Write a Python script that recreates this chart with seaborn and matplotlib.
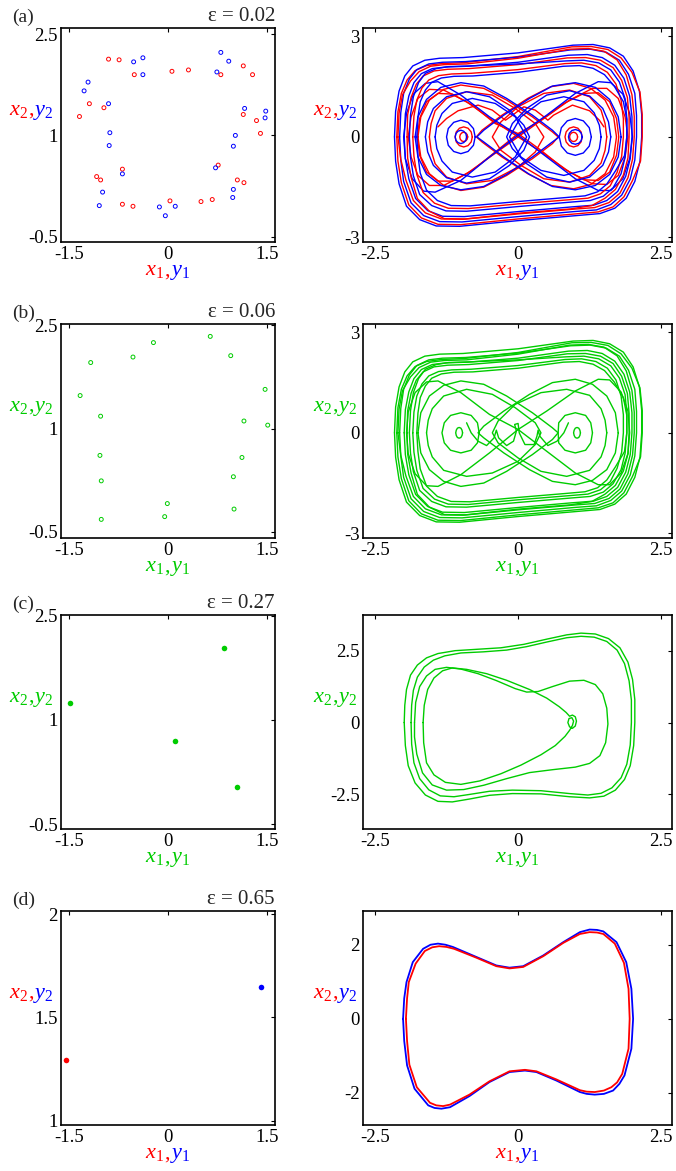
import numpy as np
import pandas as pd
import matplotlib
matplotlib.use("Agg")
import matplotlib.pyplot as plt
import seaborn as sns
from matplotlib.offsetbox import TextArea, HPacker, AnnotationBbox

sns.set_style("white")
plt.rcParams["font.family"] = ["Liberation Serif", "DejaVu Serif"]
plt.rcParams["mathtext.fontset"] = "custom"
plt.rcParams["mathtext.rm"] = "Liberation Serif"
plt.rcParams["mathtext.it"] = "Liberation Serif:italic"
plt.rcParams["lines.solid_joinstyle"] = "round"

RED, BLUE, GREEN = "#ff0000", "#0000ff", "#00cc00"

# ---------------- Poincare sections (left column) ----------------
a_red_px = [-0.90, -0.74, -0.51, 0.06, 0.31, 0.80, 1.14, 1.28, -1.19, -0.97, -1.34, 1.14, 1.34,
            1.40, -0.69, -1.08, -1.02, 0.76, 1.05, 1.15, -0.69, -0.53, 0.03, 0.50, 0.67]
a_red_py = [2.13, 2.12, 1.90, 1.95, 1.97, 1.90, 2.03, 1.90, 1.47, 1.41, 1.28, 1.31, 1.22,
            1.03, 0.50, 0.39, 0.34, 0.56, 0.34, 0.30, -0.02, -0.05, 0.03, 0.02, 0.05]
a_blue_px = [-0.52, -0.38, -0.38, 0.80, 0.92, 0.74, -1.21, -1.27, -0.90, 1.16, 1.48, 1.47, -0.88,
             -0.89, 1.02, 0.99, -0.69, 0.72, -0.99, -1.04, 0.99, 0.98, -0.13, 0.11, -0.04]
a_blue_py = [2.09, 2.15, 1.90, 2.23, 2.10, 1.94, 1.79, 1.66, 1.47, 1.40, 1.36, 1.26, 1.04,
             0.85, 1.00, 0.84, 0.43, 0.52, 0.16, -0.04, 0.20, 0.08, -0.06, -0.05, -0.19]
b_green_px = [-1.17, -0.53, -0.22, 0.64, 0.95, -1.33, 1.47, -1.02, 1.15, 1.51, -1.03, 1.12,
              -1.01, 0.99, -0.01, -0.05, -1.01, 1.00]
b_green_py = [1.96, 2.04, 2.25, 2.34, 2.06, 1.48, 1.57, 1.18, 1.11, 1.05, 0.61, 0.58,
              0.24, 0.30, -0.09, -0.28, -0.32, -0.17]
c_green_px = [0.85, -1.49, 0.10, 1.05]
c_green_py = [2.03, 1.24, 0.69, 0.04]
d_red_px, d_red_py = [-1.54], [1.294]
d_blue_px, d_blue_py = [1.41], [1.65]

# ---------------- outer band of the chaotic orbits, (a) and (b) ----------------
band_x = [
    [-2.16, -2.14, -2.08, -1.98, -1.84, -1.63, -1.37, -0.96, 0, 0.96, 1.31, 1.60, 1.84, 2.01, 2.12, 2.16,
     2.16, 2.13, 2.04, 1.89, 1.69, 1.43, 1.02, 0, -1.02, -1.43, -1.72, -1.95, -2.08, -2.14, -2.16],
    [-2.12, -2.10, -2.04, -1.94, -1.80, -1.60, -1.34, -0.94, 0, 0.94, 1.28, 1.57, 1.80, 1.99, 2.13, 2.17,
     2.17, 2.14, 2.00, 1.85, 1.66, 1.40, 1.00, 0, -1.00, -1.40, -1.69, -1.91, -2.04, -2.10, -2.12],
    [-2.07, -2.05, -2.00, -1.90, -1.77, -1.56, -1.32, -0.92, 0, 0.92, 1.26, 1.54, 1.77, 1.93, 2.04, 2.07,
     2.07, 2.04, 1.96, 1.81, 1.62, 1.37, 0.98, 0, -0.98, -1.37, -1.65, -1.87, -2.00, -2.05, -2.07],
    [-2.10, -2.08, -2.02, -1.88, -1.73, -1.53, -1.29, -0.90, 0, 0.90, 1.23, 1.50, 1.73, 1.89, 1.99, 2.03,
     2.03, 2.00, 1.92, 1.78, 1.59, 1.34, 0.96, 0, -0.96, -1.34, -1.62, -1.83, -1.96, -2.05, -2.10],
    [-1.99, -1.97, -1.91, -1.82, -1.69, -1.50, -1.26, -0.88, 0, 0.88, 1.21, 1.47, 1.69, 1.85, 1.95, 1.99,
     1.99, 1.96, 1.88, 1.74, 1.55, 1.32, 0.94, 0, -0.94, -1.32, -1.58, -1.79, -1.91, -1.97, -1.99],
    [-1.94, -1.93, -1.87, -1.78, -1.66, -1.47, -1.23, -0.86, 0, 0.86, 1.18, 1.44, 1.66, 1.81, 1.91, 1.94,
     1.94, 1.92, 1.84, 1.70, 1.52, 1.29, 0.92, 0, -0.92, -1.29, -1.55, -1.76, -1.87, -1.93, -1.94],
    [-1.90, -1.88, -1.83, -1.74, -1.62, -1.43, -1.21, -0.84, 0, 0.84, 1.15, 1.41, 1.62, 1.77, 1.87, 1.90,
     1.90, 1.87, 1.80, 1.66, 1.49, 1.26, 0.90, 0, -0.90, -1.26, -1.51, -1.72, -1.83, -1.88, -1.90],
    [-1.84, -1.82, -1.77, -1.68, -1.56, -1.39, -1.16, -0.82, 0, 0.82, 1.11, 1.36, 1.56, 1.71, 1.80, 1.84,
     1.84, 1.81, 1.73, 1.61, 1.44, 1.22, 0.87, 0, -0.87, -1.22, -1.46, -1.66, -1.77, -1.82, -1.84],
    [-1.77, -1.75, -1.71, -1.62, -1.51, -1.34, -1.12, -0.79, 0, 0.79, 1.07, 1.31, 1.51, 1.68, 1.84, 1.90,
     1.90, 1.86, 1.70, 1.55, 1.39, 1.17, 0.84, 0, -0.84, -1.17, -1.41, -1.60, -1.71, -1.75, -1.77],
]
band_y = [
    [0, 0.77, 1.37, 1.82, 2.12, 2.29, 2.35, 2.37, 2.51, 2.74, 2.76, 2.66, 2.41, 1.97, 1.37, 0.67,
     0, -0.73, -1.33, -1.83, -2.13, -2.29, -2.35, -2.50, -2.67, -2.66, -2.47, -2.07, -1.40, -0.73, 0],
    [0, 0.75, 1.30, 1.70, 1.98, 2.13, 2.19, 2.22, 2.40, 2.69, 2.70, 2.61, 2.36, 1.93, 1.34, 0.66,
     0, -0.72, -1.30, -1.79, -2.09, -2.24, -2.30, -2.45, -2.62, -2.61, -2.42, -2.03, -1.37, -0.72, 0],
    [0, 0.73, 1.30, 1.73, 2.01, 2.18, 2.23, 2.25, 2.38, 2.60, 2.62, 2.53, 2.29, 1.87, 1.30, 0.64,
     0, -0.69, -1.26, -1.74, -2.02, -2.18, -2.23, -2.38, -2.54, -2.53, -2.35, -1.97, -1.33, -0.69, 0],
    [0, 0.71, 1.26, 1.67, 1.95, 2.11, 2.16, 2.18, 2.35, 2.62, 2.64, 2.56, 2.30, 1.85, 1.26, 0.62,
     0, -0.67, -1.22, -1.68, -1.96, -2.11, -2.16, -2.30, -2.46, -2.45, -2.27, -1.90, -1.29, -0.67, 0],
    [0, 0.69, 1.22, 1.62, 1.89, 2.04, 2.09, 2.11, 2.23, 2.44, 2.46, 2.37, 2.14, 1.75, 1.22, 0.60,
     0, -0.65, -1.18, -1.63, -1.90, -2.04, -2.09, -2.23, -2.38, -2.37, -2.20, -1.84, -1.25, -0.65, 0],
    [0, 0.66, 1.18, 1.57, 1.82, 1.97, 2.02, 2.04, 2.16, 2.36, 2.37, 2.29, 2.07, 1.69, 1.18, 0.58,
     0, -0.63, -1.14, -1.57, -1.83, -2.05, -2.15, -2.28, -2.45, -2.44, -2.22, -1.84, -1.20, -0.63, 0],
    [0, 0.66, 1.20, 1.62, 1.90, 2.04, 2.10, 2.12, 2.18, 2.27, 2.29, 2.21, 2.00, 1.64, 1.14, 0.56,
     0, -0.61, -1.10, -1.52, -1.77, -1.90, -1.95, -2.08, -2.22, -2.21, -2.05, -1.72, -1.16, -0.61, 0],
    [0, 0.62, 1.10, 1.46, 1.70, 1.83, 1.88, 1.90, 2.01, 2.19, 2.21, 2.13, 1.93, 1.58, 1.10, 0.54,
     0, -0.58, -1.06, -1.46, -1.70, -1.83, -1.88, -2.00, -2.14, -2.13, -1.98, -1.66, -1.12, -0.58, 0],
    [0, 0.59, 1.05, 1.40, 1.63, 1.76, 1.81, 1.82, 1.93, 2.11, 2.13, 2.05, 1.86, 1.52, 1.05, 0.52,
     0, -0.56, -1.02, -1.41, -1.64, -1.76, -1.81, -1.93, -2.06, -2.05, -1.90, -1.59, -1.08, -0.56, 0],
]
# colour of each band loop in panel (a)
band_colors_a = [BLUE, RED, BLUE, RED, BLUE, RED, BLUE, RED, BLUE]

# ---------------- inner loops of the chaotic orbits ----------------
a_red_inner = [
    [(0, 0), (0.45, -0.5), (0.9, -1.05), (1.3, -1.4), (1.55, -1.42), (1.75, -1.15), (1.87, -0.6), (1.92, 0),
     (1.87, 0.6), (1.75, 1.15), (1.55, 1.45), (1.3, 1.45), (0.9, 1.1), (0.45, 0.55), (0, 0), (-0.45, -0.55),
     (-0.9, -1.1), (-1.3, -1.45), (-1.55, -1.45), (-1.75, -1.15), (-1.87, -0.6), (-1.92, 0), (-1.87, 0.6),
     (-1.75, 1.15), (-1.55, 1.42), (-1.3, 1.4), (-0.9, 1.05), (-0.45, 0.5), (0, 0)],
    [(0, 0.1), (0.4, -0.4), (0.8, -0.95), (1.15, -1.28), (1.4, -1.3), (1.6, -1.05), (1.72, -0.55), (1.76, 0),
     (1.72, 0.55), (1.6, 1.05), (1.4, 1.32), (1.15, 1.3), (0.8, 1.0), (0.4, 0.5), (0, 0.1), (-0.4, -0.45),
     (-0.8, -1.0), (-1.15, -1.32), (-1.4, -1.32), (-1.6, -1.05), (-1.72, -0.55), (-1.76, 0), (-1.72, 0.55),
     (-1.6, 1.05), (-1.4, 1.3), (-1.15, 1.28), (-0.8, 0.95), (-0.4, 0.4), (0, 0.1)],
    [(-1.55, 0), (-1.52, 0.4), (-1.45, 0.78), (-1.25, 1.15), (-0.9, 1.35), (-0.45, 1.25), (-0.05, 0.85),
     (0.3, 0.4), (0.45, 0), (0.3, -0.45), (0, -0.9), (-0.45, -1.3), (-0.9, -1.4), (-1.25, -1.2),
     (-1.45, -0.8), (-1.52, -0.4), (-1.55, 0)],
    [(1.55, 0), (1.52, -0.4), (1.45, -0.78), (1.25, -1.15), (0.9, -1.35), (0.45, -1.25), (0.05, -0.85),
     (-0.3, -0.4), (-0.45, 0), (-0.3, 0.45), (0, 0.9), (0.45, 1.3), (0.9, 1.4), (1.25, 1.2), (1.45, 0.8),
     (1.52, 0.4), (1.55, 0)],
    [(-1.75, 0), (-1.7, 0.6), (-1.55, 1.1), (-1.3, 1.42), (-1.0, 1.55), (-0.6, 1.45), (-0.2, 1.1),
     (0.25, 0.6), (0.6, 0.15), (0.7, 0), (0.6, -0.2), (0.25, -0.65), (-0.2, -1.15), (-0.6, -1.5),
     (-1.0, -1.6), (-1.3, -1.45), (-1.55, -1.1), (-1.7, -0.6), (-1.75, 0)],
    [(1.72, 0), (1.67, -0.6), (1.52, -1.1), (1.27, -1.42), (0.97, -1.55), (0.57, -1.45), (0.17, -1.1),
     (-0.28, -0.6), (-0.63, -0.15), (-0.73, 0), (-0.63, 0.2), (-0.28, 0.65), (0.17, 1.15), (0.57, 1.5),
     (0.97, 1.6), (1.27, 1.45), (1.52, 1.1), (1.67, 0.6), (1.72, 0)],
    [(-1.4, 0.3), (-1.25, 0.55), (-1.05, 0.78), (-0.7, 0.95), (-0.45, 0.8), (-0.3, 0.6), (-0.22, 0.5),
     (-0.12, 0.62), (0.1, 0.9), (0.3, 0.8), (0.45, 0.6), (0.52, 0.5), (0.62, 0.65), (0.95, 0.95),
     (1.25, 0.78), (1.42, 0.5), (1.5, 0.3)],
    [(-0.88, 0), (-0.89, 0.07), (-0.915, 0.12), (-0.95, 0.14), (-0.985, 0.12), (-1.01, 0.07), (-1.02, 0),
     (-1.01, -0.07), (-0.985, -0.12), (-0.95, -0.14), (-0.915, -0.12), (-0.89, -0.07), (-0.88, 0)],
    [(-0.80, 0), (-0.82, 0.15), (-0.875, 0.26), (-0.95, 0.30), (-1.025, 0.26), (-1.08, 0.15), (-1.10, 0),
     (-1.08, -0.15), (-1.025, -0.26), (-0.95, -0.30), (-0.875, -0.26), (-0.82, -0.15), (-0.80, 0)],
    [(1.04, 0), (1.03, 0.07), (1.005, 0.12), (0.97, 0.14), (0.935, 0.12), (0.91, 0.07), (0.90, 0),
     (0.91, -0.07), (0.935, -0.12), (0.97, -0.14), (1.005, -0.12), (1.03, -0.07), (1.04, 0)],
    [(1.12, 0), (1.10, 0.15), (1.045, 0.26), (0.97, 0.30), (0.895, 0.26), (0.84, 0.15), (0.82, 0),
     (0.84, -0.15), (0.895, -0.26), (0.97, -0.30), (1.045, -0.26), (1.10, -0.15), (1.12, 0)],
]

a_blue_inner = [
    [(0, 0.05), (0.5, -0.6), (1.0, -1.25), (1.4, -1.6), (1.62, -1.6), (1.83, -1.25), (1.95, -0.65), (2.0, 0),
     (1.95, 0.7), (1.83, 1.28), (1.62, 1.62), (1.4, 1.65), (1.0, 1.3), (0.5, 0.65), (0, 0.05), (-0.5, -0.6),
     (-1.0, -1.3), (-1.45, -1.65), (-1.65, -1.62), (-1.85, -1.25), (-1.97, -0.65), (-2.0, 0), (-1.95, 0.7),
     (-1.83, 1.28), (-1.62, 1.6), (-1.4, 1.65), (-1.0, 1.25), (-0.5, 0.6), (0, 0.05)],
    [(-1.45, 0), (-1.42, 0.35), (-1.33, 0.7), (-1.15, 1.0), (-0.8, 1.15), (-0.4, 1.0), (-0.05, 0.6),
     (0.15, 0), (-0.05, -0.6), (-0.4, -1.05), (-0.8, -1.2), (-1.15, -1.05), (-1.33, -0.72),
     (-1.42, -0.35), (-1.45, 0)],
    [(1.45, 0), (1.42, -0.35), (1.33, -0.7), (1.15, -1.0), (0.8, -1.15), (0.4, -1.0), (0.05, -0.6),
     (-0.15, 0), (0.05, 0.6), (0.4, 1.05), (0.8, 1.2), (1.15, 1.05), (1.33, 0.72), (1.42, 0.35), (1.45, 0)],
    [(-1.62, 0), (-1.58, 0.45), (-1.48, 0.85), (-1.25, 1.2), (-0.9, 1.35), (-0.5, 1.2), (-0.15, 0.8),
     (0.1, 0.35), (0.2, 0), (0.1, -0.4), (-0.15, -0.85), (-0.5, -1.25), (-0.9, -1.38), (-1.25, -1.22),
     (-1.48, -0.85), (-1.58, -0.45), (-1.62, 0)],
    [(1.62, 0), (1.58, -0.45), (1.48, -0.85), (1.25, -1.2), (0.9, -1.35), (0.5, -1.2), (0.15, -0.8),
     (-0.1, -0.35), (-0.2, 0), (-0.1, 0.4), (0.15, 0.85), (0.5, 1.25), (0.9, 1.38), (1.25, 1.22),
     (1.48, 0.85), (1.58, 0.45), (1.62, 0)],
    [(1.8, 0), (1.75, -0.6), (1.6, -1.12), (1.35, -1.45), (1.0, -1.58), (0.6, -1.48), (0.2, -1.12),
     (-0.25, -0.6), (-0.6, -0.15), (-0.72, 0), (-0.6, 0.2), (-0.25, 0.65), (0.2, 1.15), (0.6, 1.52),
     (1.0, 1.62), (1.35, 1.48), (1.6, 1.12), (1.75, 0.6), (1.8, 0)],
    [(-1.8, 0), (-1.75, 0.6), (-1.6, 1.12), (-1.35, 1.48), (-1.0, 1.62), (-0.6, 1.52), (-0.2, 1.15),
     (0.25, 0.65), (0.6, 0.2), (0.72, 0), (0.6, -0.15), (0.25, -0.6), (-0.2, -1.12), (-0.6, -1.48),
     (-1.0, -1.58), (-1.35, -1.45), (-1.6, -1.12), (-1.75, -0.6), (-1.8, 0)],
    [(-0.90, 0), (-0.913, 0.10), (-0.95, 0.17), (-1.0, 0.20), (-1.05, 0.17), (-1.087, 0.10), (-1.10, 0),
     (-1.087, -0.10), (-1.05, -0.17), (-1.0, -0.20), (-0.95, -0.17), (-0.913, -0.10), (-0.90, 0)],
    [(-0.75, 0), (-0.78, 0.25), (-0.875, 0.435), (-1.0, 0.5), (-1.125, 0.435), (-1.22, 0.25), (-1.25, 0),
     (-1.22, -0.25), (-1.125, -0.435), (-1.0, -0.5), (-0.875, -0.435), (-0.78, -0.25), (-0.75, 0)],
    [(1.12, 0), (1.104, 0.11), (1.06, 0.19), (1.0, 0.22), (0.94, 0.19), (0.896, 0.11), (0.88, 0),
     (0.896, -0.11), (0.94, -0.19), (1.0, -0.22), (1.06, -0.19), (1.104, -0.11), (1.12, 0)],
    [(1.28, 0), (1.244, 0.275), (1.14, 0.48), (1.0, 0.55), (0.86, 0.48), (0.756, 0.275), (0.72, 0),
     (0.756, -0.275), (0.86, -0.48), (1.0, -0.55), (1.14, -0.48), (1.244, -0.275), (1.28, 0)],
]

b_green_inner = [
    [(0, 0.1), (0.5, -0.55), (1.0, -1.2), (1.4, -1.55), (1.6, -1.55), (1.8, -1.2), (1.92, -0.62), (1.95, 0),
     (1.92, 0.65), (1.8, 1.22), (1.6, 1.58), (1.4, 1.6), (1.0, 1.25), (0.5, 0.65), (0, 0.1), (-0.5, -0.6),
     (-1.0, -1.25), (-1.4, -1.6), (-1.6, -1.58), (-1.8, -1.22), (-1.92, -0.62), (-1.95, 0), (-1.92, 0.62),
     (-1.8, 1.2), (-1.6, 1.52), (-1.4, 1.55), (-1.0, 1.2), (-0.5, 0.55), (0, 0.1)],
    [(-1.6, 0), (-1.57, 0.38), (-1.5, 0.72), (-1.3, 1.1), (-0.9, 1.3), (-0.45, 1.15), (-0.05, 0.75),
     (0.3, 0.3), (0.4, 0), (0.3, -0.35), (0, -0.85), (-0.45, -1.2), (-0.9, -1.3), (-1.3, -1.12),
     (-1.5, -0.72), (-1.57, -0.38), (-1.6, 0)],
    [(1.55, 0), (1.52, -0.38), (1.45, -0.72), (1.25, -1.12), (0.85, -1.3), (0.4, -1.15), (0.0, -0.75),
     (-0.35, -0.3), (-0.45, 0), (-0.35, 0.35), (-0.05, 0.85), (0.4, 1.2), (0.85, 1.3), (1.25, 1.12),
     (1.45, 0.72), (1.52, 0.38), (1.55, 0)],
    [(-1.75, 0), (-1.7, 0.6), (-1.55, 1.1), (-1.3, 1.42), (-1.0, 1.55), (-0.6, 1.45), (-0.2, 1.1),
     (0.25, 0.6), (0.6, 0.15), (0.7, 0), (0.6, -0.2), (0.25, -0.65), (-0.2, -1.15), (-0.6, -1.5),
     (-1.0, -1.6), (-1.3, -1.45), (-1.55, -1.1), (-1.7, -0.6), (-1.75, 0)],
    [(1.75, 0), (1.7, -0.6), (1.55, -1.1), (1.3, -1.42), (1.0, -1.55), (0.6, -1.45), (0.2, -1.1),
     (-0.25, -0.6), (-0.6, -0.15), (-0.7, 0), (-0.6, 0.2), (-0.25, 0.65), (0.2, 1.15), (0.6, 1.5),
     (1.0, 1.6), (1.3, 1.45), (1.55, 1.1), (1.7, 0.6), (1.75, 0)],
    [(-0.68, 0), (-0.71, 0.3), (-0.82, 0.52), (-1.0, 0.6), (-1.18, 0.52), (-1.29, 0.3), (-1.33, 0),
     (-1.29, -0.3), (-1.18, -0.52), (-1.0, -0.6), (-0.82, -0.52), (-0.71, -0.3), (-0.68, 0)],
    [(-0.97, 0), (-0.98, 0.08), (-1.0, 0.14), (-1.03, 0.16), (-1.06, 0.14), (-1.08, 0.08), (-1.09, 0),
     (-1.08, -0.08), (-1.06, -0.14), (-1.03, -0.16), (-1.0, -0.14), (-0.98, -0.08), (-0.97, 0)],
    [(1.3, 0), (1.27, 0.3), (1.18, 0.52), (1.0, 0.6), (0.82, 0.52), (0.71, 0.3), (0.7, 0),
     (0.71, -0.3), (0.82, -0.52), (1.0, -0.6), (1.18, -0.52), (1.27, -0.3), (1.3, 0)],
    [(1.09, 0), (1.08, 0.08), (1.06, 0.14), (1.03, 0.16), (1.0, 0.14), (0.98, 0.08), (0.97, 0),
     (0.98, -0.08), (1.0, -0.14), (1.03, -0.16), (1.06, -0.14), (1.08, -0.08), (1.09, 0)],
    [(-0.9, 0.3), (-0.82, 0.0), (-0.7, -0.25), (-0.55, -0.38), (-0.42, -0.15), (-0.38, 0.08), (-0.34, -0.15),
     (-0.2, -0.38), (-0.08, -0.25), (-0.03, 0.05), (-0.06, 0.25), (0.0, 0.28), (0.02, 0.0), (0.12, -0.35),
     (0.28, -0.35), (0.33, -0.1), (0.35, 0.08), (0.38, -0.1), (0.52, -0.38), (0.68, -0.25), (0.8, 0.0),
     (0.88, 0.3)],
]

c_green_loops = [
    [(-1.99, 0), (-1.98, 0.6), (-1.95, 1.15), (-1.88, 1.65), (-1.76, 2.0), (-1.6, 2.25), (-1.4, 2.4),
     (-1.1, 2.5), (-0.7, 2.55), (-0.3, 2.6), (0.1, 2.72), (0.5, 2.9), (0.85, 3.05), (1.1, 3.11), (1.35, 3.08),
     (1.58, 2.92), (1.78, 2.6), (1.92, 2.1), (2.0, 1.5), (2.04, 0.8), (2.04, 0), (2.02, -0.8), (1.96, -1.5),
     (1.86, -1.98), (1.7, -2.35), (1.5, -2.56), (1.25, -2.62), (0.9, -2.58), (0.4, -2.48), (-0.1, -2.47),
     (-0.5, -2.53), (-0.85, -2.66), (-1.15, -2.76), (-1.4, -2.74), (-1.62, -2.52), (-1.8, -2.1),
     (-1.92, -1.5), (-1.97, -0.8), (-1.99, 0)],
    [(-1.87, 0), (-1.86, 0.6), (-1.83, 1.12), (-1.76, 1.58), (-1.64, 1.93), (-1.48, 2.17), (-1.28, 2.32),
     (-1.0, 2.42), (-0.6, 2.46), (-0.2, 2.52), (0.15, 2.64), (0.5, 2.8), (0.85, 2.95), (1.1, 3.0),
     (1.33, 2.97), (1.55, 2.82), (1.73, 2.52), (1.86, 2.05), (1.94, 1.45), (1.98, 0.78), (1.98, 0),
     (1.96, -0.78), (1.9, -1.45), (1.8, -1.92), (1.64, -2.27), (1.45, -2.46), (1.22, -2.52), (0.9, -2.47),
     (0.4, -2.37), (-0.1, -2.35), (-0.5, -2.39), (-0.85, -2.5), (-1.12, -2.58), (-1.36, -2.55),
     (-1.56, -2.34), (-1.72, -1.95), (-1.82, -1.4), (-1.86, -0.75), (-1.87, 0)],
    [(-1.81, 0), (-1.79, 0.7), (-1.72, 1.25), (-1.6, 1.62), (-1.45, 1.85), (-1.25, 1.92), (-1.0, 1.86),
     (-0.7, 1.7), (-0.38, 1.46), (-0.05, 1.18), (0.15, 1.06), (0.35, 1.08), (0.6, 1.25), (0.9, 1.44),
     (1.15, 1.47), (1.35, 1.32), (1.48, 1.0), (1.55, 0.5), (1.57, -0.05), (1.53, -0.7), (1.43, -1.15),
     (1.25, -1.42), (1.0, -1.55), (0.6, -1.64), (0.2, -1.74), (-0.2, -1.95), (-0.6, -2.18), (-0.95, -2.33),
     (-1.25, -2.35), (-1.5, -2.17), (-1.67, -1.75), (-1.77, -1.1), (-1.81, -0.5), (-1.81, 0)],
    [(-1.66, 0), (-1.64, 0.6), (-1.58, 1.15), (-1.47, 1.55), (-1.32, 1.8), (-1.15, 1.9), (-0.9, 1.85),
     (-0.55, 1.7), (-0.2, 1.47), (0.2, 1.15), (0.5, 0.85), (0.72, 0.55), (0.84, 0.35), (0.9, 0.22),
     (0.95, 0.26), (1.0, 0.2), (1.02, 0.05), (1.0, -0.12), (0.95, -0.2), (0.9, -0.15), (0.87, 0.0),
     (0.89, 0.14), (0.94, 0.17), (0.97, 0.05), (0.95, -0.1), (0.9, -0.27), (0.82, -0.48), (0.65, -0.8),
     (0.4, -1.12), (0.05, -1.48), (-0.3, -1.78), (-0.67, -2.03), (-1.0, -2.15), (-1.27, -2.08),
     (-1.47, -1.82), (-1.6, -1.4), (-1.65, -0.7), (-1.66, 0)],
]

d_red_loop = [(-1.96, 0), (-1.94, 0.55), (-1.91, 0.99), (-1.79, 1.49), (-1.63, 1.83), (-1.5, 1.93),
              (-1.38, 1.96), (-1.25, 1.94), (-1.12, 1.89), (-0.73, 1.65), (-0.38, 1.42), (-0.15, 1.36),
              (0.09, 1.40), (0.44, 1.69), (0.79, 2.05), (1.08, 2.29), (1.25, 2.34), (1.38, 2.33), (1.49, 2.29),
              (1.69, 2.03), (1.85, 1.51), (1.93, 0.81), (1.95, 0), (1.93, -0.81), (1.82, -1.49), (1.73, -1.72),
              (1.63, -1.85), (1.5, -1.94), (1.34, -1.98), (1.2, -1.97), (1.08, -1.93), (0.67, -1.64),
              (0.32, -1.42), (0.12, -1.38), (-0.15, -1.42), (-0.50, -1.69), (-0.85, -2.05), (-1.19, -2.32),
              (-1.31, -2.36), (-1.43, -2.34), (-1.54, -2.27), (-1.77, -1.85), (-1.90, -1.24), (-1.94, -0.6),
              (-1.96, 0)]
d_blue_loop = [(-2.01, 0), (-1.99, 0.55), (-1.95, 0.99), (-1.84, 1.53), (-1.66, 1.89), (-1.53, 2.0),
               (-1.40, 2.03), (-1.27, 2.0), (-1.14, 1.94), (-0.73, 1.67), (-0.38, 1.44), (-0.15, 1.38),
               (0.09, 1.42), (0.44, 1.71), (0.79, 2.07), (1.08, 2.34), (1.25, 2.41), (1.38, 2.40), (1.49, 2.36),
               (1.72, 2.07), (1.89, 1.53), (1.98, 0.81), (2.01, 0), (1.98, -0.81), (1.86, -1.53), (1.77, -1.76),
               (1.66, -1.94), (1.5, -2.03), (1.34, -2.05), (1.2, -2.03), (1.08, -1.98), (0.67, -1.67),
               (0.32, -1.44), (0.12, -1.40), (-0.15, -1.44), (-0.50, -1.71), (-0.85, -2.09), (-1.19, -2.39),
               (-1.34, -2.43), (-1.46, -2.41), (-1.57, -2.34), (-1.81, -1.89), (-1.94, -1.26), (-1.99, -0.6),
               (-2.01, 0)]

eps_labels = ["\u03b5 = 0.02", "\u03b5 = 0.06", "\u03b5 = 0.27", "\u03b5 = 0.65"]
panel_tags = ["(a)", "(b)", "(c)", "(d)"]


def loops_frame(loops):
    rows = []
    for k, loop in enumerate(loops):
        for i, (x, y) in enumerate(loop):
            rows.append((k, i, x, y))
    return pd.DataFrame(rows, columns=["loop", "step", "x", "y"])


def draw_loops(ax, loops, color, lw=1.0):
    df = loops_frame(loops)
    sns.lineplot(data=df, x="x", y="y", units="loop", estimator=None, sort=False,
                 color=color, lw=lw, ax=ax)


def band_loops(idx):
    return [list(zip(band_x[i], band_y[i])) for i in idx]


def style_axes(ax, xlim, ylim, xt, xtl, yt, ytl):
    ax.set_xlim(*xlim)
    ax.set_ylim(*ylim)
    ax.set_xticks(xt)
    ax.set_xticklabels(xtl)
    ax.set_yticks(yt)
    ax.set_yticklabels(ytl)
    ax.set_xlabel("")
    ax.set_ylabel("")
    ax.tick_params(direction="in", length=3, width=0.8, top=True, right=True,
                   labelsize=13.5, colors="black")
    ax.tick_params(axis="x", pad=3)
    ax.tick_params(axis="y", pad=2.5)
    for sp in ax.spines.values():
        sp.set_linewidth(1.2)
        sp.set_color("black")
        sp.set_visible(True)


def pair_label(idx, c1, c2):
    size = 16
    parts = [TextArea(r"$\mathit{x}_{\mathit{%d}}$" % idx, textprops=dict(color=c1, size=size)),
             TextArea(",", textprops=dict(color=c1, size=size)),
             TextArea(r"$\mathit{y}_{\mathit{%d}}$" % idx, textprops=dict(color=c2, size=size))]
    return HPacker(children=parts, align="baseline", pad=0, sep=0)


def add_labels(ax, c1, c2, ygap):
    ab = AnnotationBbox(pair_label(1, c1, c2), (0.5, 0), xycoords="axes fraction", xybox=(0, -21.5),
                        boxcoords="offset points", box_alignment=(0.5, 0.5), frameon=False, pad=0)
    ax.add_artist(ab)
    ab = AnnotationBbox(pair_label(2, c1, c2), (0, 0.61), xycoords="axes fraction", xybox=(-ygap, 0),
                        boxcoords="offset points", box_alignment=(1, 0.5), frameon=False, pad=0)
    ax.add_artist(ab)


fig = plt.figure(figsize=(6.76, 11.71), dpi=100)
bottoms = [0.7933, 0.5406, 0.2921, 0.0393]
h = 0.1827
axL = [fig.add_axes([0.0902, b, 0.3166, h]) for b in bottoms]
axR = [fig.add_axes([0.5370, b, 0.4571, h]) for b in bottoms]

left_ylims = [(-0.58, 2.59), (-0.59, 2.52), (-0.57, 2.51), (0.979, 2.016)]

# (a)
sns.scatterplot(x=a_red_px, y=a_red_py, ax=axL[0], s=8, marker="o", fc="none", ec=RED, linewidth=0.7)
sns.scatterplot(x=a_blue_px, y=a_blue_py, ax=axL[0], s=8, marker="o", fc="none", ec=BLUE, linewidth=0.7)
draw_loops(axR[0], a_red_inner, RED)
draw_loops(axR[0], a_blue_inner, BLUE)
for i, c in enumerate(band_colors_a):
    draw_loops(axR[0], band_loops([i]), c)
# (b)
sns.scatterplot(x=b_green_px, y=b_green_py, ax=axL[1], s=8, marker="o", fc="none", ec=GREEN, linewidth=0.7)
draw_loops(axR[1], band_loops(range(len(band_x))) + b_green_inner, GREEN)
# (c)
sns.scatterplot(x=c_green_px, y=c_green_py, ax=axL[2], s=16, marker="o", color=GREEN, linewidth=0)
draw_loops(axR[2], c_green_loops, GREEN)
# (d)
sns.scatterplot(x=d_red_px, y=d_red_py, ax=axL[3], s=16, marker="o", color=RED, linewidth=0)
sns.scatterplot(x=d_blue_px, y=d_blue_py, ax=axL[3], s=16, marker="o", color=BLUE, linewidth=0)
draw_loops(axR[3], [d_blue_loop], BLUE, lw=1.3)
draw_loops(axR[3], [d_red_loop], RED, lw=1.3)

for i in range(4):
    if i < 3:
        style_axes(axL[i], (-1.62, 1.62), left_ylims[i], [-1.5, 0, 1.5], ["-1.5", "0", "1.5"],
                   [-0.5, 1, 2.5], ["-0.5", "1", "2.5"])
    else:
        style_axes(axL[i], (-1.62, 1.62), left_ylims[i], [-1.5, 0, 1.5], ["-1.5", "0", "1.5"],
                   [1, 1.5, 2], ["1", "1.5", "2"])
    if i < 2:
        style_axes(axR[i], (-2.71, 2.69), (-3.14, 3.25), [-2.5, 0, 2.5], ["-2.5", "0", "2.5"],
                   [-3, 0, 3], ["-3", "0", "3"])
    elif i == 2:
        style_axes(axR[i], (-2.71, 2.69), (-3.7, 3.74), [-2.5, 0, 2.5], ["-2.5", "0", "2.5"],
                   [-2.5, 0, 2.5], ["-2.5", "0", "2.5"])
    else:
        style_axes(axR[i], (-2.71, 2.69), (-2.87, 2.91), [-2.5, 0, 2.5], ["-2.5", "0", "2.5"],
                   [-2, 0, 2], ["-2", "0", "2"])

    c1, c2 = (RED, BLUE) if i in (0, 3) else (GREEN, GREEN)
    add_labels(axL[i], c1, c2, 5)
    add_labels(axR[i], c1, c2, 3.6)

    axL[i].annotate(panel_tags[i], xy=(0, 1), xycoords="axes fraction", xytext=(-35, 8),
                    textcoords="offset points", ha="left", va="center", fontsize=14)
    axL[i].annotate(eps_labels[i], xy=(1, 1), xycoords="axes fraction", xytext=(0, 8),
                    textcoords="offset points", ha="right", va="center", fontsize=15)

fig.savefig("out.png", dpi=100)
